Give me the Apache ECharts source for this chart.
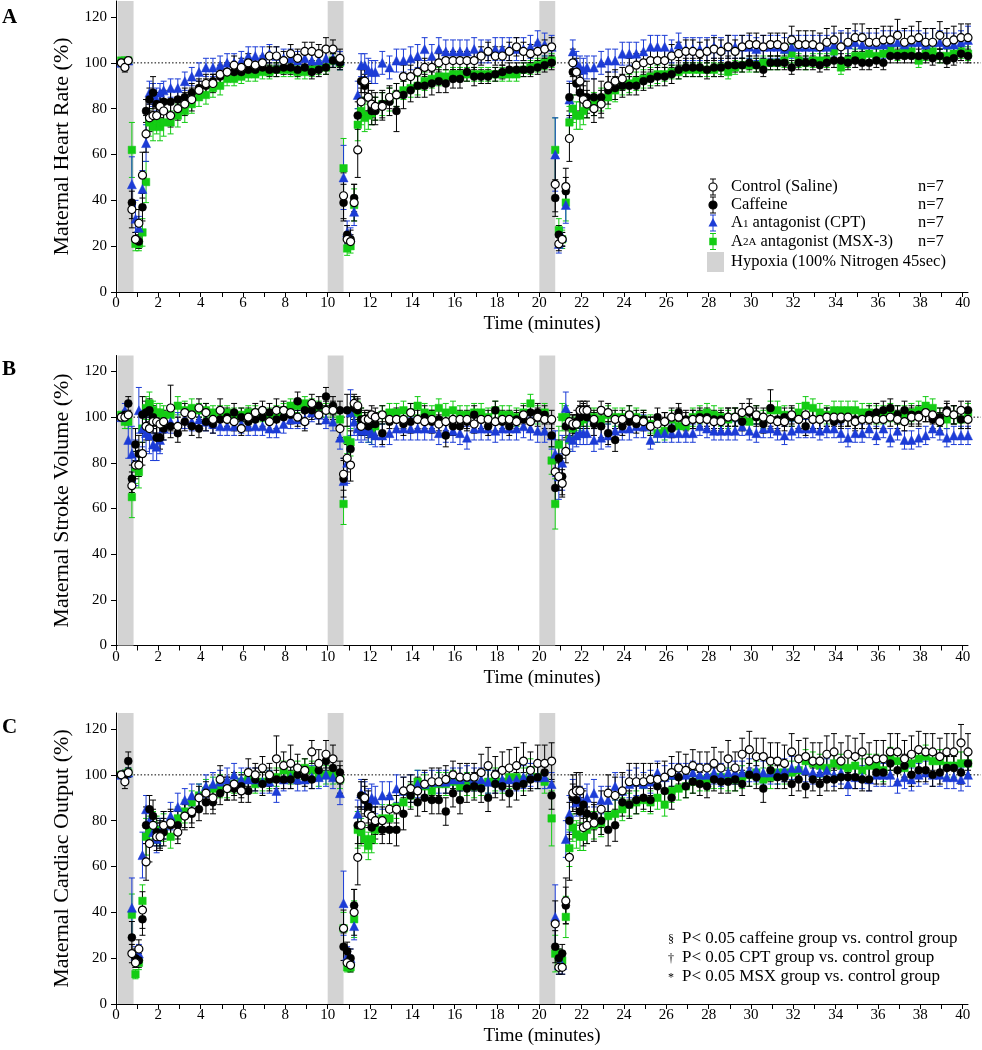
<!DOCTYPE html>
<html><head><meta charset="utf-8">
<script src="https://cdn.jsdelivr.net/npm/echarts@6/dist/echarts.min.js"></script>
<style>html,body{margin:0;padding:0;background:#fff}#c{width:982px;height:1050px}</style>
</head><body><div id="c"></div>
<script>
// ---------- DATA ----------
const time = [
0.25,0.42,0.58,0.75,0.92,1.08,1.25,1.42,1.58,1.75,1.92,2.08,2.25,
2.58,2.92,3.25,3.58,3.92,4.25,4.58,4.92,5.25,5.58,5.92,6.25,6.58,6.92,7.25,7.58,7.92,8.25,8.58,8.92,9.25,9.58,9.92,
10.25,10.58,10.75,10.92,11.08,11.25,11.42,11.58,11.75,11.92,12.08,12.25,
12.58,12.92,13.25,13.58,13.92,14.25,14.58,14.92,15.25,15.58,15.92,16.25,16.58,16.92,17.25,17.58,17.92,18.25,18.58,18.92,19.25,19.58,19.92,
20.25,20.58,20.75,20.92,21.08,21.25,21.42,21.58,21.75,21.92,22.08,22.25,
22.58,22.92,23.25,23.58,23.92,24.25,24.58,24.92,25.25,25.58,25.92,26.25,26.58,26.92,27.25,27.58,27.92,28.25,28.58,28.92,29.25,29.58,29.92,
30.25,30.58,30.92,31.25,31.58,31.92,32.25,32.58,32.92,33.25,33.58,33.92,34.25,34.58,34.92,35.25,35.58,35.92,36.25,36.58,36.92,37.25,37.58,37.92,38.25,38.58,38.92,39.25,39.58,39.92,40.25];

// Panel A: Maternal Heart Rate (%)
const hrControl = [
100,98,101,36,23,30,51,69,76,77,77,81,79,
77,80,82,84,88,91,91,95,96,99,98,100,99,100,103,103,101,104,102,105,105,104,106,
106,102,42,23,22,39,62,83,92,85,82,81,
81,85,86,94,94,96,98,98,100,101,101,101,101,101,103,105,103,103,105,107,105,104,105,
106,107,47,21,23,46,67,100,96,92,84,82,
80,82,90,92,93,97,99,100,101,101,101,103,104,105,105,104,105,106,105,107,105,107,108,
108,107,108,108,107,110,108,108,108,107,109,110,107,109,111,111,109,109,110,110,112,109,110,111,109,109,112,109,110,111,111];
const hrControlErr = [
1,2,1,8,3,6,10,8,6,6,5,5,5,
5,5,5,5,4, 4,4,4,4,4, 4,4,3,3,4, 4,4,4,4,4, 4,4,5,
4,4,10,3,3,8,12,6,5,6,6,6,
6,5,5,5,5, 5,4,4,4,4, 4,4,4,4,4, 4,4,4,4,4, 4,4,4,
4,4,12,3,3,8,10,6,6,6,6,6,
6,6,6,5,5, 5,5,5,5,5, 5,5,5,5,5, 5,5,5,5,5, 5,5,5,
5,5,5,5,6, 6,6,6,6,6, 6,6,6,6,6, 6,6,6,6,6, 7,6,6,7,6, 6,6,6,6,6, 6];
const hrCaffeine = [
100,100,101,39,23,22,37,79,84,87,82,81,83,
83,84,85,87,89,90,92,94,96,96,96,97,97,98,97,97,98,98,97,98,96,97,98,
101,100,39,25,23,41,77,92,90,85,79,79,
82,83,79,86,88,90,90,91,92,91,93,93,96,94,94,94,95,96,97,97,97,97,98,
99,100,41,25,23,44,85,96,91,87,85,85,
85,85,88,89,90,90,90,92,93,94,94,95,97,98,98,98,97,98,98,99,99,99,100,
99,97,100,100,100,98,100,100,100,99,100,101,101,100,101,100,100,101,100,103,103,103,103,103,103,102,103,101,102,104,103];
const hrCaffeineErr = [
1,1,1,7,3,3,6,5,5,7,5,5,5,
5,4,4,4,4, 3,3,3,3,3, 3,3,3,3,3, 3,3,3,3,3, 3,3,3,
3,3,8,4,4,6,6,5,5,6,6,6,
6,6,9,6,5, 5,5,5,5,4, 4,4,4,4,3, 3,3,3,3,3, 3,3,3,
3,3,8,4,3,6,6,5,5,8,7,7,
8,7,6,5,5, 4,4,4,4,4, 4,4,4,4,4, 4,4,4,4,4, 3,3,3,
3,3,3,3,3, 3,3,3,3,3, 3,3,3,3,3, 3,3,3,3,3, 3,3,3,3,3, 3,3,3,3,3, 3];
const hrCPT = [
100,100,101,47,32,28,45,65,87,86,84,87,88,
89,89,92,94,96,98,98,99,100,100,101,103,103,103,104,103,102,102,101,102,101,101,102,
102,101,50,26,24,35,86,99,99,97,96,96,
100,98,101,101,102,103,106,103,106,105,105,105,105,106,105,105,106,106,106,106,106,107,109,
108,107,60,21,24,38,84,105,100,98,97,98,
98,100,101,101,104,104,104,105,107,107,107,105,108,106,106,106,106,107,106,107,107,107,107,
106,107,107,107,106,107,107,107,107,107,107,108,108,108,109,108,108,108,108,109,109,108,109,109,108,109,109,108,108,109,110];
const hrCPTErr = [
1,1,1,12,8,5,8,8,5,5,5,4,4,
4,4,4,4,4, 4,4,4,4,4, 4,4,4,4,4, 4,4,4,4,4, 4,4,4,
4,4,14,5,4,6,6,5,5,5,5,5,
5,5,5,5,5, 5,5,5,5,5, 5,5,5,5,5, 5,5,5,5,5, 5,5,5,
5,5,16,4,4,8,8,5,5,5,5,5,
5,5,5,5,5, 5,5,5,5,5, 5,5,5,5,5, 5,5,5,5,5, 5,5,5,
5,5,5,5,5, 5,5,5,5,5, 5,5,6,5,5, 5,5,5,6,5, 5,6,5,5,5, 6,5,5,5,5, 6];
const hrMSX = [
101,101,101,62,21,21,26,48,74,72,75,72,74,
74,77,79,82,85,86,89,90,93,93,94,95,95,96,96,97,97,97,96,96,97,98,98,
101,100,54,19,20,38,73,79,76,77,78,80,
82,84,86,88,89,90,92,93,94,94,95,95,95,95,95,95,95,95,95,95,97,98,99,
100,101,62,27,23,39,74,80,77,77,79,81,
82,84,85,88,90,91,92,93,94,95,95,96,96,97,97,97,97,97,98,96,98,99,99,
99,100,100,100,101,104,101,100,101,101,101,105,98,101,103,103,104,103,104,106,104,105,105,101,104,105,103,103,104,105,104];
const hrMSXErr = [
1,1,1,12,3,3,6,9,6,6,6,6,6,
5,5,5,4,4, 4,4,4,3,3, 3,3,3,3,3, 3,3,3,3,3, 3,3,3,
3,3,13,3,3,7,7,6,6,6,5,5,
5,5,5,4,4, 4,4,4,4,3, 3,3,3,3,3, 3,3,3,3,3, 3,3,3,
3,3,14,5,4,8,7,6,6,6,6,5,
5,5,5,5,4, 4,4,4,4,4, 3,3,3,3,3, 3,3,3,3,3, 3,3,3,
3,3,3,3,3, 4,3,3,3,3, 3,4,3,3,3, 3,3,3,3,4, 3,3,3,3,3, 3,3,3,3,3, 3];

// Panel B: Maternal Stroke Volume (%)
const svControl = [
100,100,101,70,79,79,84,96,95,98,98,97,98,
104,96,102,101,104,102,99,103,99,98,95,100,102,103,98,103,103,102,100,98,106,101,103,
103,95,75,82,79,106,105,96,99,99,101,100,
101,99,99,99,102,99,98,99,97,98,99,99,99,97,99,99,98,99,99,98,101,98,100,
99,99,76,74,71,85,98,97,97,103,103,103,
99,103,102,99,99,101,99,98,96,97,98,100,100,98,99,99,99,98,98,100,100,102,103,
101,100,99,98,98,101,99,101,99,99,100,100,100,100,98,99,99,99,99,100,99,98,100,100,102,101,98,102,101,103,99];
const svControlErr = [
1,1,1,6,6,5,5,6,5,5,5,5,5,
10,4,4,4,4, 4,4,5,4,4, 3,4,4,4,4, 5,4,4,4,4, 4,4,4,
4,4,7,6,7,4,4,4,4,4,4,4,
4,4,4,4,4, 4,4,4,4,4, 4,4,4,4,4, 4,4,4,4,4, 4,4,4,
4,4,7,6,6,5,4,4,4,4,4,4,
4,4,4,4,4, 4,4,4,4,4, 4,4,4,4,4, 4,4,4,4,4, 4,4,5,
4,4,4,4,4, 4,4,4,4,4, 4,4,4,4,4, 4,4,4,4,4, 4,4,4,4,4, 4,4,4,4,4, 4];
const svCaffeine = [
100,101,106,73,88,84,101,102,103,100,91,91,95,
96,93,98,96,95,98,97,99,100,102,100,98,99,100,102,99,100,101,107,103,103,105,109,
105,103,73,103,86,104,103,99,97,96,97,97,
93,98,99,97,98,99,100,98,99,92,96,96,98,101,99,96,103,98,96,99,99,102,102,
101,92,69,82,74,96,97,96,98,100,101,100,
97,96,93,90,96,98,97,99,96,100,98,95,102,99,99,100,100,99,99,100,100,98,102,
100,97,104,99,100,100,99,96,99,99,100,98,99,100,99,99,101,102,103,104,101,103,101,101,102,99,100,103,101,99,103];
const svCaffeineErr = [
1,2,3,6,7,8,8,5,5,5,5,5,5,
5,4,4,4,4, 4,4,4,4,4, 4,4,4,4,4, 4,4,4,4,4, 4,4,4,
4,4,8,7,8,5,5,5,5,5,5,5,
5,5,5,5,5, 5,5,5,5,5, 4,4,4,4,4, 4,4,4,4,4, 4,4,4,
4,5,8,8,8,5,5,5,5,5,5,5,
5,5,5,5,4, 4,4,4,4,4, 4,4,4,4,4, 4,4,4,4,4, 4,4,4,
4,4,8,4,4, 4,4,4,4,4, 4,4,4,4,4, 4,4,4,4,4, 4,4,4,4,4, 4,4,4,4,4, 4];
const svCPT = [
100,103,90,84,80,103,95,93,92,88,87,90,95,
98,97,99,98,99,98,97,96,96,96,97,96,96,96,95,95,97,99,99,99,102,101,99,
98,91,72,80,102,98,95,94,95,94,93,92,
92,93,95,95,95,95,95,95,93,94,94,93,91,95,95,95,94,95,95,95,96,95,94,
94,92,84,74,80,104,91,90,92,93,93,93,
90,91,92,94,95,95,96,96,90,93,93,93,93,93,93,96,95,94,94,94,94,96,94,
93,95,95,94,92,94,95,95,95,94,95,95,93,91,93,93,95,92,95,91,94,90,90,91,92,95,94,91,92,92,92];
const svCPTErr = [
1,3,8,12,10,10,8,8,8,7,6,6,5,
5,5,4,4,4, 4,4,4,4,4, 4,4,4,4,4, 4,4,4,4,4, 4,4,4,
4,5,10,9,10,6,5,5,5,5,5,5,
5,5,5,5,5, 5,5,5,5,5, 5,5,5,5,5, 5,5,5,5,5, 5,5,5,
5,6,10,10,12,7,5,5,5,5,5,5,
5,5,5,5,5, 5,5,5,4,4, 4,4,4,4,4, 4,4,4,4,4, 4,4,4,
4,4,4,4,4, 4,4,4,4,4, 4,4,4,4,4, 4,4,4,4,4, 4,4,4,4,4, 4,4,4,4,4, 4];
const svMSX = [
101,98,98,65,78,76,95,104,106,103,102,102,101,
101,105,103,104,103,103,102,102,102,101,101,102,102,101,101,102,103,105,105,106,105,104,103,
103,99,62,90,89,104,102,99,97,94,93,96,
101,102,102,103,102,105,102,101,104,102,103,101,101,102,102,100,103,101,101,100,102,106,101,
102,81,62,88,100,100,90,95,97,98,99,100,
100,99,101,100,100,101,100,99,97,93,94,99,96,96,100,101,102,101,100,99,100,99,98,
101,99,103,103,101,100,102,105,104,102,101,103,103,103,103,102,102,101,101,102,101,101,102,103,105,104,100,99,101,99,102];
const svMSXErr = [
1,3,3,9,7,7,6,5,5,4,4,4,4,
4,4,4,4,3, 3,3,3,3,3, 3,3,3,3,3, 3,3,3,3,3, 3,3,3,
3,3,9,6,6,5,5,5,5,5,5,5,
4,4,4,4,4, 4,4,4,4,4, 4,4,4,4,4, 4,4,4,4,4, 4,4,4,
4,6,11,8,6,5,5,5,4,4,4,4,
4,4,4,4,4, 4,4,4,4,4, 4,4,4,4,4, 4,4,4,4,4, 4,4,4,
4,4,4,4,4, 4,4,4,4,4, 4,4,4,4,4, 4,4,4,4,4, 4,4,4,4,4, 4,4,4,4,4, 4];

// Panel C: Maternal Cardiac Output (%)
const coControl = [
100,97,101,22,18,24,41,62,70,78,73,73,78,
79,75,82,84,90,92,90,98,94,96,93,101,100,103,100,107,104,105,103,102,110,105,109,
107,98,33,18,17,40,64,78,90,83,82,80,
80,85,85,93,94,93,96,97,97,98,100,99,99,99,101,104,100,102,103,104,106,102,105,
105,106,35,16,16,45,64,92,93,93,77,78,
79,85,92,91,93,97,97,97,98,98,99,101,103,102,104,103,103,105,103,107,103,109,111,
108,108,106,106,105,110,107,108,106,106,109,110,106,109,108,110,106,107,107,110,110,107,109,111,110,110,108,110,110,114,110];
const coControlErr = [
1,3,2,4,2,4,8,8,8,7,6,6,6,
6,5,5,5,5, 5,5,6,5,5, 5,6,5,5,5, 10,6,8,6,5, 5,6,6,
6,6,8,3,3,10,12,8,8,6,6,6,
6,6,6,6,6, 6,6,6,6,6, 6,6,6,6,8, 8,8,8,8,8, 8,8,8,
8,8,10,3,3,10,10,8,8,8,8,8,
8,8,8,8,8, 8,8,8,7,7, 7,7,7,7,7, 7,7,7,7,8, 7,7,8,
8,8,8,8,8, 8,8,8,8,8, 8,8,8,8,8, 8,8,8,8,8, 8,8,8,8,8, 8,8,8,8,8, 8];
const coCaffeine = [
100,100,106,29,20,19,37,78,85,82,75,74,75,
78,78,82,83,85,88,88,92,94,94,95,93,98,96,98,98,98,98,100,99,98,102,106,
103,101,25,23,20,43,78,91,89,86,77,79,
76,76,76,83,91,88,90,89,89,84,92,89,94,95,94,90,96,95,92,95,96,98,99,
101,91,25,20,22,43,80,90,89,84,87,83,
82,80,76,78,88,87,89,90,89,95,93,90,99,95,97,96,95,98,97,97,98,96,100,
99,94,102,99,99,96,98,95,98,96,98,98,99,99,99,98,98,101,101,105,102,104,100,102,102,100,101,103,103,101,105];
const coCaffeineErr = [
1,2,4,7,4,3,7,8,6,7,6,6,6,
6,6,6,6,5, 5,5,5,5,5, 5,5,5,5,5, 4,4,4,4,4, 4,4,4,
5,5,6,4,4,7,8,6,6,7,7,7,
6,6,7,7,6, 6,6,6,6,6, 6,6,6,6,6, 6,6,6,6,6, 5,5,5,
5,6,7,4,4,8,8,6,6,6,6,6,
6,6,7,7,6, 6,6,5,5,5, 5,5,5,5,5, 5,5,5,5,5, 5,5,5,
5,6,5,5,5, 5,5,5,5,5, 5,5,5,5,5, 5,5,5,5,5, 5,5,5,5,5, 5,5,5,5,5, 5];
const coCPT = [
100,100,101,42,21,22,65,85,80,75,72,75,78,
82,86,89,91,91,95,96,97,98,100,98,98,98,97,97,93,98,99,98,98,99,99,100,
99,92,44,21,20,34,83,92,91,88,90,89,
91,91,94,93,94,96,96,97,97,97,98,98,99,98,98,97,97,98,98,98,99,100,99,
99,96,38,17,17,72,83,92,88,89,88,90,
92,89,89,95,93,96,97,96,97,101,99,100,100,100,101,100,100,101,100,101,101,101,102,
102,101,101,101,102,103,103,102,101,101,102,100,101,96,99,99,98,100,100,100,97,99,98,100,101,100,100,99,99,98,100];
const coCPTErr = [
1,2,2,13,4,4,10,6,6,6,6,6,6,
6,6,5,5,5, 5,5,5,5,5, 5,5,5,5,5, 5,5,5,5,5, 5,5,5,
5,5,14,4,4,6,6,6,6,6,6,6,
6,6,6,6,6, 6,5,5,5,5, 5,5,5,5,5, 5,5,5,5,5, 5,5,5,
5,5,14,4,4,8,8,6,6,6,6,6,
6,6,6,6,6, 6,6,5,5,5, 5,5,5,5,5, 5,5,5,5,5, 5,5,5,
5,5,5,5,5, 5,5,5,5,5, 5,5,5,5,5, 5,5,5,5,5, 5,5,5,5,5, 5,5,5,5,5, 5];
const coMSX = [
100,100,101,39,13,18,45,73,76,78,76,75,77,
73,81,84,88,91,93,94,95,94,96,97,98,96,97,98,99,102,100,102,103,102,99,100,
100,98,33,16,16,37,76,75,72,69,72,76,
81,81,86,88,91,97,95,93,96,96,97,95,96,95,96,97,98,97,99,99,98,102,99,
97,81,22,21,19,38,68,77,74,73,73,76,
78,79,82,83,85,87,88,89,88,90,87,93,94,95,97,98,98,99,99,98,98,99,100,
101,98,99,101,101,101,102,106,105,104,103,105,104,103,104,102,104,104,102,107,106,103,105,107,108,106,106,104,104,105,105];
const coMSXErr = [
1,2,2,9,2,3,7,8,6,6,6,6,6,
5,5,5,5,5, 5,5,5,4,4, 4,4,4,4,4, 4,4,4,4,4, 4,4,4,
4,4,7,2,2,8,8,6,6,6,6,6,
6,6,5,5,5, 5,5,5,5,5, 5,5,5,5,5, 5,5,5,5,5, 5,5,5,
5,12,8,3,3,9,8,6,6,6,6,6,
6,6,6,6,5, 5,5,5,5,5, 5,5,5,5,5, 5,5,5,5,5, 5,5,5,
5,5,5,5,5, 5,5,5,5,5, 5,5,5,5,5, 5,5,5,5,5, 5,5,5,5,5, 5,5,5,5,5, 5];

const hypoxiaBands = [[0.08, 0.83], [10, 10.75], [20, 20.75]];
const baselineLevel = 100;
const daggerTimes = [12.45, 22.7];
const daggerLevel = 110.5;
const xTicks = [0,1,2,3,4,5,6,7,8,9,10,11,12,13,14,15,16,17,18,19,20,21,22,23,24,25,26,27,28,29,30,31,32,33,34,35,36,37,38,39,40];
const xLabels = [0,2,4,6,8,10,12,14,16,18,20,22,24,26,28,30,32,34,36,38,40];
const yTicks = [0,20,40,60,80,100,120];

const panelNames = ['Maternal Heart Rate (%)','Maternal Stroke Volume (%)','Maternal Cardiac Output (%)'];
const panelLetters = ['A','B','C'];
const groupNames = ['A2A antagonist (MSX-3)','A1 antagonist (CPT)','Caffeine','Control (Saline)'];
const legendLabels = ['Control (Saline)','Caffeine','{a|A}{s|1}{a| antagonist (CPT)}','{a|A}{s|2A}{a| antagonist (MSX-3)}','Hypoxia (100% Nitrogen 45sec)'];
const legendCounts = ['n=7','n=7','n=7','n=7'];
const footSymbols = ['§','†','*'];
const footTexts = ['P< 0.05 caffeine group vs. control group','P< 0.05 CPT group vs. control group','P< 0.05 MSX group vs. control group'];

// order: MSX, CPT, Caffeine, Control (drawn bottom to top)
const panelData = [
  [[hrMSX,hrMSXErr],[hrCPT,hrCPTErr],[hrCaffeine,hrCaffeineErr],[hrControl,hrControlErr]],
  [[svMSX,svMSXErr],[svCPT,svCPTErr],[svCaffeine,svCaffeineErr],[svControl,svControlErr]],
  [[coMSX,coMSXErr],[coCPT,coCPTErr],[coCaffeine,coCaffeineErr],[coControl,coControlErr]]
];
panelData.forEach((p,i)=>p.forEach((s,j)=>s.forEach((a,k)=>{
  if (a.length !== time.length) throw new Error('panel '+i+' series '+j+' arr '+k+' length '+a.length);
})));

// ---------- STYLE ----------
const FONT = '"Liberation Serif","Times New Roman",serif';
const BLUE = '#1c3cd6', GREEN = '#14cc14';
const styles = [
  {symbol:'rect', size:7.5, fill:GREEN, stroke:GREEN, err:GREEN},
  {symbol:'triangle', size:9, fill:BLUE, stroke:BLUE, err:BLUE},
  {symbol:'circle', size:8, fill:'#000', stroke:'#000', err:'#000'},
  {symbol:'circle', size:8, fill:'#fff', stroke:'#000', err:'#000'}
];
const grids = [
  {left:116, width:852, top:1, height:291},
  {left:116, width:852, top:355.5, height:290},
  {left:116, width:852, top:713, height:291}
];
const YMAX = 127, XMAX = 40.25;

function errRender(color){
  return function(params, api){
    const x = api.value(0), y = api.value(1), e = api.value(2);
    const p1 = api.coord([x, y+e]), p2 = api.coord([x, y-e]);
    const w = 3, st = {stroke:color, lineWidth:1};
    return {type:'group', children:[
      {type:'line', shape:{x1:p1[0],y1:p1[1],x2:p2[0],y2:p2[1]}, style:st},
      {type:'line', shape:{x1:p1[0]-w,y1:p1[1],x2:p1[0]+w,y2:p1[1]}, style:st},
      {type:'line', shape:{x1:p2[0]-w,y1:p2[1],x2:p2[0]+w,y2:p2[1]}, style:st}
    ]};
  };
}

const xAxes = [], yAxes = [], series = [];
grids.forEach((g,i)=>{
  xAxes.push({
    type:'value', gridIndex:i, min:0, max:XMAX,
    axisLine:{show:true, onZero:false, lineStyle:{color:'#000', width:1}},
    axisTick:{show:true, length:5, customValues:xTicks, lineStyle:{color:'#000'}},
    axisLabel:{show:true, customValues:xLabels, margin:4, color:'#000', fontFamily:FONT, fontSize:15},
    splitLine:{show:false},
    name:'Time (minutes)', nameLocation:'middle', nameGap:23,
    nameTextStyle:{color:'#000', fontFamily:FONT, fontSize:19}
  });
  yAxes.push({
    type:'value', gridIndex:i, min:0, max:YMAX,
    axisLine:{show:true, lineStyle:{color:'#000', width:1}},
    axisTick:{show:true, length:5, customValues:yTicks, lineStyle:{color:'#000'}},
    axisLabel:{show:true, customValues:yTicks, margin:9, color:'#000', fontFamily:FONT, fontSize:15},
    splitLine:{show:false},
    name:panelNames[i], nameLocation:'middle', nameGap:42,
    nameTextStyle:{color:'#000', fontFamily:FONT, fontSize:22}
  });
  // hypoxia bands
  series.push({
    type:'custom', xAxisIndex:i, yAxisIndex:i, silent:true, z:1,
    data:hypoxiaBands, encode:{x:[0,1]},
    renderItem:(params, api)=>{
      const a = api.coord([api.value(0), YMAX]), b = api.coord([api.value(1), 0]);
      return {type:'rect', shape:{x:a[0], y:a[1], width:b[0]-a[0], height:b[1]-a[1]}, style:{fill:'#d3d3d3'}};
    }
  });
  // dotted 100% line
  series.push({
    type:'custom', xAxisIndex:i, yAxisIndex:i, silent:true, z:1, clip:false,
    data:[[0.83, 40.86, baselineLevel]], encode:{x:[0,1], y:2},
    renderItem:(params, api)=>{
      const a = api.coord([api.value(0), api.value(2)]), b = api.coord([api.value(1), api.value(2)]);
      return {type:'line', shape:{x1:a[0],y1:a[1],x2:b[0],y2:b[1]}, style:{stroke:'#000', lineWidth:1, lineDash:[1.5,2]}};
    }
  });
  panelData[i].forEach((s,j)=>{
    const st = styles[j];
    const vals = s[0], errs = s[1];
    series.push({
      type:'custom', name:groupNames[j], xAxisIndex:i, yAxisIndex:i, silent:true, z:2,
      data: time.map((t,k)=>[t, vals[k], errs[k]]), encode:{x:0, y:1},
      renderItem: errRender(st.err)
    });
    series.push({
      type:'scatter', name:groupNames[j], xAxisIndex:i, yAxisIndex:i, silent:true, z:2,
      symbol:st.symbol, symbolSize:st.size,
      itemStyle:{color:st.fill, borderColor:st.stroke, borderWidth: j===3 ? 1.2 : 0.5, opacity:1},
      data: time.map((t,k)=>[t, vals[k]])
    });
  });
});
// daggers in panel A
series.push({
  type:'scatter', xAxisIndex:0, yAxisIndex:0, silent:true, z:3, symbolSize:1,
  itemStyle:{opacity:0},
  label:{show:true, position:'inside', formatter:'†', color:'#000', fontFamily:FONT, fontSize:13},
  data: daggerTimes.map(t=>[t, daggerLevel])
});

// ---------- LEGEND + TEXT (graphic) ----------
const graphic = [];
panelLetters.forEach((L,i)=>{
  graphic.push({type:'text', left:2, top:[7,359,717][i], style:{text:L, font:'bold 21px '+FONT, fill:'#000'}});
});
const legY = [187, 205, 223, 241.5];
const legSym = [3,2,1,0];
legY.forEach((y,k)=>{
  const st = styles[legSym[k]];
  const cx = 713;
  graphic.push({type:'line', shape:{x1:cx,y1:y-8,x2:cx,y2:y+8}, style:{stroke:st.err, lineWidth:1}});
  graphic.push({type:'line', shape:{x1:cx-3,y1:y-8,x2:cx+3,y2:y-8}, style:{stroke:st.err, lineWidth:1}});
  graphic.push({type:'line', shape:{x1:cx-3,y1:y+8,x2:cx+3,y2:y+8}, style:{stroke:st.err, lineWidth:1}});
  if (st.symbol==='circle') graphic.push({type:'circle', shape:{cx:cx, cy:y, r:4}, style:{fill:st.fill, stroke:st.stroke, lineWidth:1.2}});
  else if (st.symbol==='triangle') graphic.push({type:'polygon', shape:{points:[[cx,y-5],[cx+4.5,y+3.5],[cx-4.5,y+3.5]]}, style:{fill:st.fill}});
  else graphic.push({type:'rect', shape:{x:cx-3.75, y:y-3.75, width:7.5, height:7.5}, style:{fill:st.fill}});
  graphic.push({type:'text', x:731, y:y, style:{text:legendLabels[k], fill:'#000', font:'16.5px '+FONT, verticalAlign:'middle',
    rich:{a:{fontSize:16.5, fontFamily:FONT, fill:'#000'}, s:{fontSize:11, fontFamily:FONT, fill:'#000', verticalAlign:'bottom', padding:[0,0,2,0]}}}});
  graphic.push({type:'text', x:918, y:y, style:{text:legendCounts[k], fill:'#000', font:'16.5px '+FONT, verticalAlign:'middle'}});
});
graphic.push({type:'rect', shape:{x:707, y:252, width:17, height:20}, style:{fill:'#d3d3d3'}});
graphic.push({type:'text', x:731, y:262, style:{text:legendLabels[4], fill:'#000', font:'16.5px '+FONT, verticalAlign:'middle'}});
const footY = [939, 958, 977];
footY.forEach((y,k)=>{
  graphic.push({type:'text', x:671, y:y+1, style:{text:footSymbols[k], fill:'#000', font:'12px '+FONT, align:'center', verticalAlign:'middle'}});
  graphic.push({type:'text', x:682, y:y, style:{text:footTexts[k], fill:'#000', font:'17px '+FONT, verticalAlign:'middle'}});
});

const chart = echarts.init(document.getElementById('c'), null, {renderer:'canvas', width:982, height:1050});
chart.setOption({
  animation:false,
  backgroundColor:'#fff',
  textStyle:{fontFamily:FONT},
  grid:grids,
  xAxis:xAxes,
  yAxis:yAxes,
  series:series,
  graphic:graphic
});
</script>
</body></html>
